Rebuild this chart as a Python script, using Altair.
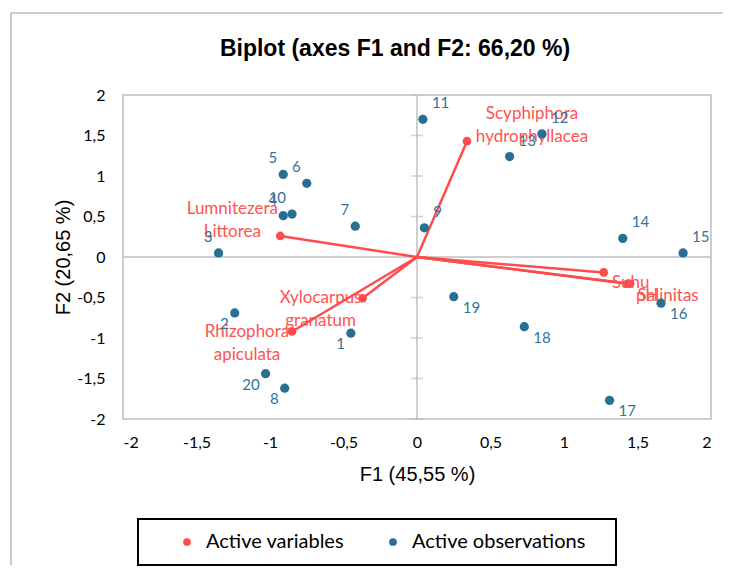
import altair as alt
import pandas as pd

# ---------------- data ----------------
OBS_IDS = [str(i) for i in range(1, 21)]
OBS_F1 = [-0.45, -1.24, -1.35, -0.91, -0.91, -0.75, -0.42, -0.90, 0.05, -0.85,
          0.04, 0.85, 0.63, 1.40, 1.81, 1.66, 1.31, 0.73, 0.25, -1.03]
OBS_F2 = [-0.94, -0.69, 0.05, 0.51, 1.02, 0.91, 0.38, -1.62, 0.36, 0.53,
          1.70, 1.52, 1.24, 0.23, 0.05, -0.57, -1.77, -0.86, -0.49, -1.44]

VAR_NAMES = ["Lumnitezera\nLittorea", "Scyphiphora\nhydrophyllacea", "Xylocarpus\ngranatum",
             "Rhizophora\napiculata", "Suhu", "pH", "Salinitas"]
VAR_F1 = [-0.93, 0.34, -0.37, -0.85, 1.27, 1.43, 1.45]
VAR_F2 = [0.26, 1.43, -0.51, -0.92, -0.19, -0.33, -0.33]

TICK_VALUES = [-2, -1.5, -1, -0.5, 0, 0.5, 1, 1.5, 2]
SERIES = ["Active variables", "Active observations"]

TITLE = "Biplot (axes F1 and F2: 66,20 %)"
X_TITLE = "F1 (45,55 %)"
Y_TITLE = "F2 (20,65 %)"

# ---------------- styles ----------------
RED = "#FF4B4B"
BLUE = "#286F94"
RED_TXT = "#FF5252"
BLUE_TXT = "#2F74A0"
GRAY = "#BFBFBF"
W, H = 588, 324

# label offsets (dx, dy of the first text line) for variable labels, in the order of VAR_NAMES
VAR_LABEL_OFFSETS = [(-48, -27), (65, -27), (-42, 0), (-45, 0), (27, 11), (20, 12), (38, 12)]

obs = pd.DataFrame({"id": OBS_IDS, "F1": OBS_F1, "F2": OBS_F2, "type": SERIES[1]})
obs["qx"] = ["r" if v > 0 else "l" for v in obs["F1"]]
obs["qy"] = ["u" if v > 0 else "d" for v in obs["F2"]]
var = pd.DataFrame({"name": VAR_NAMES, "F1": VAR_F1, "F2": VAR_F2, "type": SERIES[0]})
var["o1"] = 0.0
var["o2"] = 0.0
ticks = pd.DataFrame({"t": TICK_VALUES})
one = pd.DataFrame({"a": [0]})

xs = alt.Scale(domain=[-2, 2], nice=False, zero=False)
ys = alt.Scale(domain=[-2, 2], nice=False, zero=False)
label_expr = "replace('' + datum.value, '.', ',')"

x_axis = alt.Axis(values=TICK_VALUES, labelExpr=label_expr, domain=False, ticks=False, tickSize=0,
                  grid=False, labelPadding=15, labelFont="Lato", labelFontSize=16, labelColor="black",
                  title=X_TITLE, titleFont="Liberation Sans", titleFontSize=20, titleFontWeight="normal",
                  titleColor="black", titleY=55, titleBaseline="middle")
y_axis = alt.Axis(values=TICK_VALUES, labelExpr=label_expr, domain=False, ticks=False, tickSize=0,
                  grid=False, labelPadding=18, labelFont="Lato", labelFontSize=16, labelColor="black",
                  title=Y_TITLE, titleFont="Liberation Sans", titleFontSize=20, titleFontWeight="normal",
                  titleColor="black", titleX=-60, titleY=H / 2, titleBaseline="middle", titleAlign="center")


def X(field):
    return alt.X(field, scale=xs, axis=x_axis)


def Y(field):
    return alt.Y(field, scale=ys, axis=y_axis)


color = alt.Color("type:N", scale=alt.Scale(domain=SERIES, range=[RED, BLUE]),
                  legend=alt.Legend(title=None, orient="none", legendX=54, legendY=437,
                                    direction="horizontal", symbolType="circle", symbolSize=60,
                                    symbolStrokeWidth=0, labelFont="Lato", labelFontSize=20,
                                    labelColor="black", columnPadding=38, labelOffset=9, padding=0,
                                    labelLimit=400))

# frame of the chart area (decoration)
frame_left = alt.Chart(one).mark_rule(color="#9A9A9A", strokeWidth=1).encode(
    x=alt.value(-112), y=alt.value(-82), y2=alt.value(470))
frame_top = alt.Chart(one).mark_rule(color="#9A9A9A", strokeWidth=1).encode(
    x=alt.value(-112), x2=alt.value(610), y=alt.value(-82))

zero_h = alt.Chart(one).mark_rule(color=GRAY, strokeWidth=1.5).encode(
    y=alt.Y(datum=0, scale=ys, axis=y_axis))
zero_v = alt.Chart(one).mark_rule(color=GRAY, strokeWidth=1.5).encode(
    x=alt.X(datum=0, scale=xs, axis=x_axis))
tick_marks = alt.Chart(ticks).mark_tick(orient="horizontal", size=12, thickness=1.5, color=GRAY).encode(
    x=alt.X(datum=0, scale=xs, axis=x_axis), y=Y("t:Q"))

vectors = alt.Chart(var).mark_rule(color=RED, strokeWidth=2.5).encode(
    x=X("o1:Q"), y=Y("o2:Q"), x2="F1:Q", y2="F2:Q")
var_pts = alt.Chart(var).mark_circle(size=75, opacity=1).encode(
    x=X("F1:Q"), y=Y("F2:Q"), color=color)

var_labels = []
for name, (dx, dy) in zip(VAR_NAMES, VAR_LABEL_OFFSETS):
    var_labels.append(
        alt.Chart(var).transform_filter(alt.datum.name == name).mark_text(
            font="Lato", fontSize=17, color=RED_TXT, align="center", baseline="middle",
            lineBreak="\n", lineHeight=23, dx=dx, dy=dy).encode(
            x=X("F1:Q"), y=Y("F2:Q"), text="name:N"))

obs_pts = alt.Chart(obs).mark_circle(size=85, opacity=1).encode(
    x=X("F1:Q"), y=Y("F2:Q"), color=color)

obs_labels = []
for qx in ["l", "r"]:
    for qy in ["u", "d"]:
        obs_labels.append(
            alt.Chart(obs).transform_filter((alt.datum.qx == qx) & (alt.datum.qy == qy)).mark_text(
                font="Lato", fontSize=15, color=BLUE_TXT,
                align="left" if qx == "r" else "right", baseline="middle",
                dx=9 if qx == "r" else -6, dy=-16 if qy == "u" else 11).encode(
                x=X("F1:Q"), y=Y("F2:Q"), text="id:N"))

legend_box = alt.Chart(one).mark_rect(fill="white", stroke="black", strokeWidth=2).encode(
    x=alt.value(15), x2=alt.value(493), y=alt.value(424), y2=alt.value(470))

chart = alt.layer(
    frame_left, frame_top, zero_h, zero_v, tick_marks, vectors, var_pts, *var_labels,
    obs_pts, *obs_labels, legend_box
).properties(
    width=W, height=H,
    title=alt.TitleParams(TITLE, font="Liberation Sans", fontSize=23, fontWeight="bold", color="black",
                          anchor="middle", frame="group", dx=-22, offset=-59, baseline="middle"),
    autosize=alt.AutoSizeParams(type="none"),
    padding={"left": 115, "top": 87, "right": 12, "bottom": 150},
    background="white",
).configure_view(stroke=GRAY, strokeWidth=1.5)

chart.save("out.html", embed_options={"renderer": "svg", "actions": False})
